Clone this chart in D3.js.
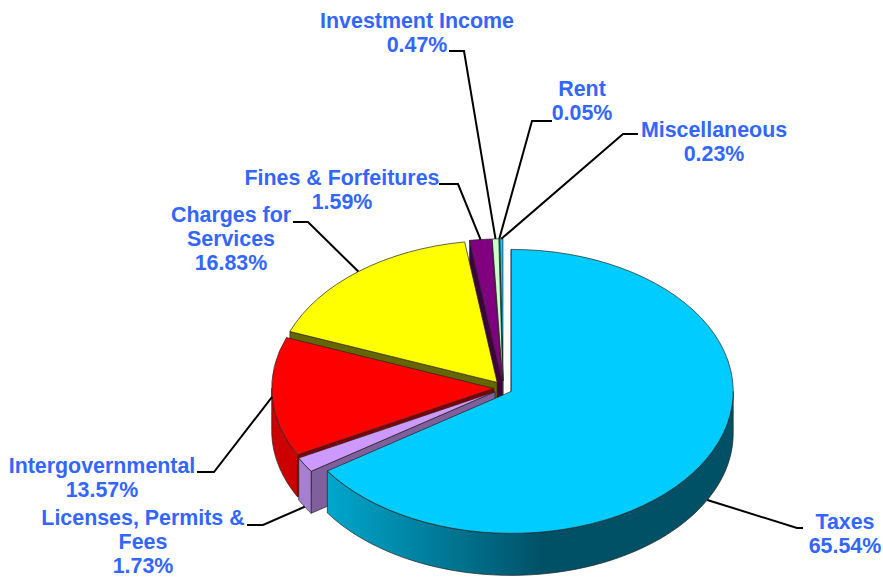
<!DOCTYPE html>
<html>
<head>
<meta charset="utf-8">
<script src="https://cdn.jsdelivr.net/npm/d3@7"></script>
<style>
    html, body { margin: 0; padding: 0; background: #fff; }
    text { font-family: "Liberation Sans", Arial, sans-serif; font-weight: bold; font-size: 21.4px; fill: #3366ff; text-anchor: middle; }
</style>
</head>
<body>
<div id="chart"></div>
<script>
// chart data, clockwise from 12 o'clock
const categories = ['Taxes', 'Licenses, Permits & Fees', 'Intergovernmental', 'Charges for Services',
                    'Fines & Forfeitures', 'Investment Income', 'Rent', 'Miscellaneous'];
const shares = [65.54, 1.73, 13.57, 16.83, 1.59, 0.47, 0.05, 0.23];

// styles per slice
const topColors  = ['#00ccff', '#cc99ff', '#ff0000', '#ffff00', '#800080', '#ccffcc', '#99ccff', '#00ccff'];
const rimColors  = ['url(#taxesWall)', '#a680d0', '#cc0000', '#cccc00', '#660066', '#a3cca3', '#7aa3cc', '#00a3cc'];
const edgeColors = ['#005066', '#7f5f9c', '#800000', '#666600', '#400040', '#668066', '#4d6680', '#006680'];

// label layout: wrapped lines, centre x, first baseline, elbow of the leader, end of the leader
const labelLines = [['Taxes'], ['Licenses, Permits &', 'Fees'], ['Intergovernmental'], ['Charges for', 'Services'],
                    ['Fines & Forfeitures'], ['Investment Income'], ['Rent'], ['Miscellaneous']];
const labelX     = [845, 143, 102, 231, 342, 417, 582, 714];
const labelY     = [529, 525, 473, 222, 185, 28, 96, 137];
const leaderEnd  = [[803, 528], [247, 525], [197, 472], [293, 222], [439, 184], [449, 51], [552, 121], [638, 134]];
const leaderKnee = [[797, 528], [263, 525], [214, 472], [308, 222], [458, 184], [464, 51], [532, 121], [623, 134]];
// how far down the outer wall the leader touches (0 = top rim)
const leaderDrop = [1, 1, 0, 0, 0, 0, 0, 0];

const width = 883, height = 581;
const cx = 503, cy = 388;         // pie centre before exploding
const rx = 222, ry = 142;         // ellipse of the tilted disc
const depth = 42;
const explodeX = 9.3, explodeY = 7.2;

const svg = d3.select('#chart').append('svg')
    .attr('width', width)
    .attr('height', height);

// wall shading of the big slice
const grad = svg.append('defs').append('linearGradient')
    .attr('id', 'taxesWall')
    .attr('gradientUnits', 'userSpaceOnUse')
    .attr('x1', 328).attr('x2', 545).attr('y1', 0).attr('y2', 0);
grad.append('stop').attr('offset', 0).attr('stop-color', '#00a6cc');
grad.append('stop').attr('offset', 1).attr('stop-color', '#005066');

const pieData = d3.pie().sort(null).value(d => d)(shares);

pieData.forEach((d, i) => {
    const mid = (d.startAngle + d.endAngle) / 2;
    d.index = i;
    d.mid = mid;
    d.x = cx + explodeX * Math.sin(mid);
    d.y = cy - explodeY * Math.cos(mid);
});

const rimPoint = (d, a) => [d.x + rx * Math.sin(a), d.y - ry * Math.cos(a)];

const line = d3.line();
const arcGen = d3.arc().innerRadius(0).outerRadius(rx);

// outer wall, only the part of the rim that faces the viewer
function outerWall(d) {
    const from = Math.max(d.startAngle, Math.PI / 2);
    const to = Math.min(d.endAngle, Math.PI * 1.5);
    if (to <= from) return null;
    const angles = d3.range(0, 61).map(k => from + (to - from) * k / 60);
    const upper = angles.map(a => rimPoint(d, a));
    const lower = angles.slice().reverse().map(a => {
        const p = rimPoint(d, a);
        return [p[0], p[1] + depth];
    });
    return line(upper.concat(lower)) + 'Z';
}

// flat wall under the start edge of a slice, the only straight wall we ever see
function radialWall(d) {
    const p = rimPoint(d, d.startAngle);
    return line([[d.x, d.y], p, [p[0], p[1] + depth], [d.x, d.y + depth]]) + 'Z';
}

// paint from the back of the pie to the front
const paintOrder = [7, 6, 5, 4, 3, 2, 1, 0];
const chart = svg.append('g');

paintOrder.forEach(i => {
    const d = pieData[i];
    const g = chart.append('g');
    g.append('path')
        .attr('d', radialWall(d))
        .attr('fill', edgeColors[i])
        .attr('stroke', '#222')
        .attr('stroke-width', 0.7);
    const wall = outerWall(d);
    if (wall) {
        g.append('path')
            .attr('d', wall)
            .attr('fill', rimColors[i])
            .attr('stroke', '#222')
            .attr('stroke-width', 0.7);
    }
    g.append('path')
        .attr('d', arcGen(d))
        .attr('transform', `translate(${d.x},${d.y}) scale(1,${ry / rx})`)
        .attr('fill', topColors[i])
        .attr('stroke', '#222')
        .attr('stroke-width', 0.7)
        .attr('vector-effect', 'non-scaling-stroke');
});

// leaders
svg.append('g').selectAll('path')
    .data(pieData)
    .join('path')
    .attr('d', d => {
        const p = rimPoint(d, d.mid);
        return line([[p[0], p[1] + leaderDrop[d.index] * depth], leaderKnee[d.index], leaderEnd[d.index]]);
    })
    .attr('fill', 'none')
    .attr('stroke', '#000')
    .attr('stroke-width', 2);

// labels
const fmt = d3.format('.2f');
const labels = svg.append('g').selectAll('text')
    .data(pieData)
    .join('text')
    .attr('y', d => labelY[d.index]);

labels.selectAll('tspan')
    .data(d => labelLines[d.index].concat(fmt(d.value) + '%').map(t => ({ t, x: labelX[d.index] })))
    .join('tspan')
    .attr('x', d => d.x)
    .attr('dy', (d, k) => k ? 24 : 0)
    .text(d => d.t);
</script>
</body>
</html>
